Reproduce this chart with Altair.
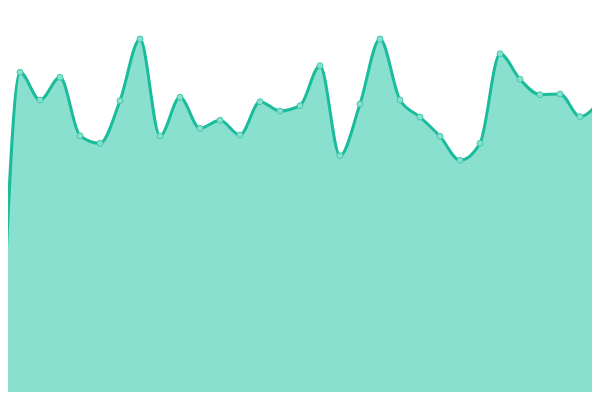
import altair as alt
import pandas as pd

xs = list(range(0, 601, 20))
vals = [0, 327.7, 300, 322.7, 264.3, 256.7, 299.3, 361, 264, 302.7, 271.7,
        279.7, 265, 298.3, 289, 294.3, 334.3, 244.3, 296, 361, 300,
        283, 263.7, 239.7, 256.7, 346.3, 320.7, 305.3, 306, 283.3, 299.3]

df = pd.DataFrame({"x": xs, "v": vals})

xsc = alt.Scale(domain=[8, 592], nice=False, zero=False)
ysc = alt.Scale(domain=[8, 392], nice=False, zero=False)

base = alt.Chart(df).encode(
    x=alt.X("x:Q", scale=xsc, axis=None),
    y=alt.Y("v:Q", scale=ysc, axis=None),
)

area = base.mark_area(interpolate="monotone", color="#8ae0cf", opacity=1, clip=True)
line = base.mark_line(interpolate="monotone", color="#1abc9c", strokeWidth=3, clip=True)
pts = base.mark_point(filled=True, size=36, fill="#8ae0cf", stroke="#3cc7a6",
                      strokeWidth=1, opacity=1, fillOpacity=1, strokeOpacity=0.9,
                      clip=True)

chart = alt.layer(area, line, pts).properties(
    width=584, height=384,
    padding=0,
    autosize=alt.AutoSizeParams(type="none"),
).configure_view(stroke=None)

chart.save("out.html", embed_options={"renderer": "svg", "actions": False})
